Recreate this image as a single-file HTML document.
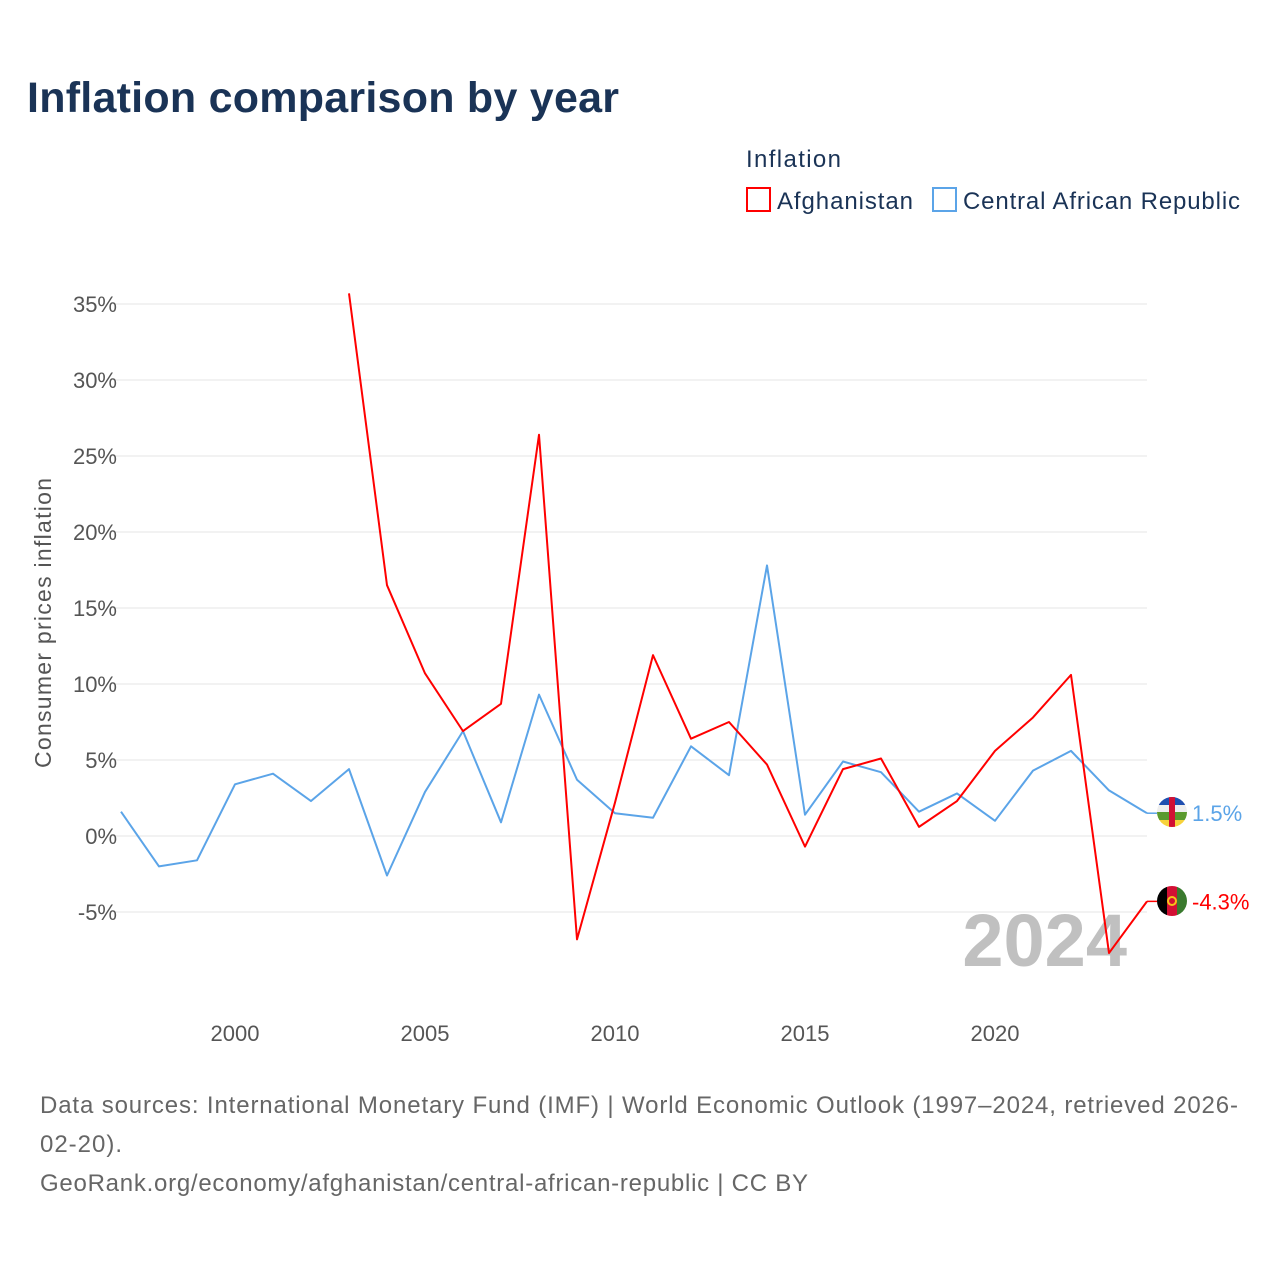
<!DOCTYPE html>
<html><head><meta charset="utf-8"><style>
body{margin:0;background:#fff;font-family:"Liberation Sans",sans-serif;}
</style></head><body>
<svg width="1280" height="1280" xmlns="http://www.w3.org/2000/svg" id="chart">
<text x="27" y="112" font-size="43" font-weight="bold" fill="#1a3356" textLength="592">Inflation comparison by year</text>
<g>
<text x="746" y="167" font-size="24" fill="#1a3356" textLength="95">Inflation</text>
<g><rect x="747" y="188" width="23" height="23" fill="none" stroke="#ff0000" stroke-width="2"/><text x="777" y="209" font-size="24" fill="#1a3356" textLength="136">Afghanistan</text></g>
<g><rect x="933" y="188" width="23" height="23" fill="none" stroke="#5ba4e8" stroke-width="2"/><text x="963" y="209" font-size="24" fill="#1a3356" textLength="277">Central African Republic</text></g>
</g>
<g id="grid"></g><g id="ylabels"></g><g id="xlabels"></g>
<text x="0" y="0" transform="translate(51,623) rotate(-90)" text-anchor="middle" font-size="23" fill="#555" textLength="290">Consumer prices inflation</text>
<text x="1127" y="966" text-anchor="end" font-size="74" font-weight="bold" fill="#c0c0c0">2024</text>
<g id="lines"></g>
<g>
<clipPath id="c1"><circle cx="1172" cy="812" r="15"/></clipPath>
<g clip-path="url(#c1)"><rect x="1157" y="797" width="30" height="8" fill="#1f4fb0"/><rect x="1157" y="805" width="30" height="7" fill="#eee"/><rect x="1157" y="812" width="30" height="8" fill="#5b9a2e"/><rect x="1157" y="820" width="30" height="8" fill="#f7d23b"/><rect x="1169" y="797" width="6" height="30" fill="#d21034"/></g>
</g>
<g>
<clipPath id="c2"><circle cx="1172" cy="901" r="15"/></clipPath>
<g clip-path="url(#c2)"><rect x="1157" y="886" width="10" height="30" fill="#000"/><rect x="1167" y="886" width="10" height="30" fill="#d21034"/><rect x="1177" y="886" width="10" height="30" fill="#3a7a2e"/><circle cx="1172" cy="901" r="4" fill="none" stroke="#f5c518" stroke-width="2"/></g>
</g>
<g id="endlabels"></g>
<text x="40" y="1113" font-size="24" fill="#666" textLength="1198">Data sources: International Monetary Fund (IMF) | World Economic Outlook (1997–2024, retrieved 2026-</text>
<text x="40" y="1152" font-size="24" fill="#666" textLength="82">02-20).</text>
<text x="40" y="1191" font-size="24" fill="#666" textLength="768">GeoRank.org/economy/afghanistan/central-african-republic | CC BY</text>
</svg>
<script>
const years=[1997,1998,1999,2000,2001,2002,2003,2004,2005,2006,2007,2008,2009,2010,2011,2012,2013,2014,2015,2016,2017,2018,2019,2020,2021,2022,2023,2024];
const afghanistan=[null,null,null,null,null,null,35.7,16.5,10.7,6.9,8.7,26.4,-6.8,2.2,11.9,6.4,7.5,4.7,-0.7,4.4,5.1,0.6,2.3,5.6,7.8,10.6,-7.7,-4.3];
const car=[1.6,-2.0,-1.6,3.4,4.1,2.3,4.4,-2.6,2.9,6.9,0.9,9.3,3.7,1.5,1.2,5.9,4.0,17.8,1.4,4.9,4.2,1.6,2.8,1.0,4.3,5.6,3.0,1.5];
const yTicks=[-5,0,5,10,15,20,25,30,35];
const xTicks=[2000,2005,2010,2015,2020];
const NS="http://www.w3.org/2000/svg";
const X=y=>121+(y-1997)*38;
const Y=v=>836-v*15.2;
function mk(t,a,p){const e=document.createElementNS(NS,t);for(const k in a)e.setAttribute(k,a[k]);p.appendChild(e);return e;}
const grid=document.getElementById('grid'),yl=document.getElementById('ylabels'),xl=document.getElementById('xlabels'),ln=document.getElementById('lines'),el=document.getElementById('endlabels');
yTicks.forEach(t=>{
 const g=mk('line',{x1:113,x2:1147,y1:Y(t),y2:Y(t),stroke:'#e6e6e6','stroke-width':1},grid);
 
 
 const tx=mk('text',{x:117,y:Y(t)+8,'text-anchor':'end','font-size':22,fill:'#555'},yl);
 tx.textContent=t+'%';
 
 
});
xTicks.forEach(t=>{
 const tx=mk('text',{x:X(t),y:1041,'text-anchor':'middle','font-size':22,fill:'#555'},xl);
 tx.textContent=t;
 
 
});
function path(vals,color,name){
 let d='';vals.forEach((v,i)=>{if(v==null)return;d+=(d?'L':'M')+X(years[i])+','+Y(v);});
 const p=mk('path',{d:d,fill:'none',stroke:color,'stroke-width':2,'stroke-linejoin':'round'},ln);
 
 
 const last=vals[vals.length-1];
 const c=mk('line',{x1:X(2024),x2:X(2024)+10,y1:Y(last),y2:Y(last),stroke:color,'stroke-width':1.5},ln);
 
 
 const t=mk('text',{x:1192,y:Y(last)+8,'font-size':22,fill:color},el);
 t.textContent=last.toFixed(1)+'%';
 
 
}
path(car,'#5ba4e8','car-line');
path(afghanistan,'#ff0000','afghanistan-line');
</script>
</body></html>
